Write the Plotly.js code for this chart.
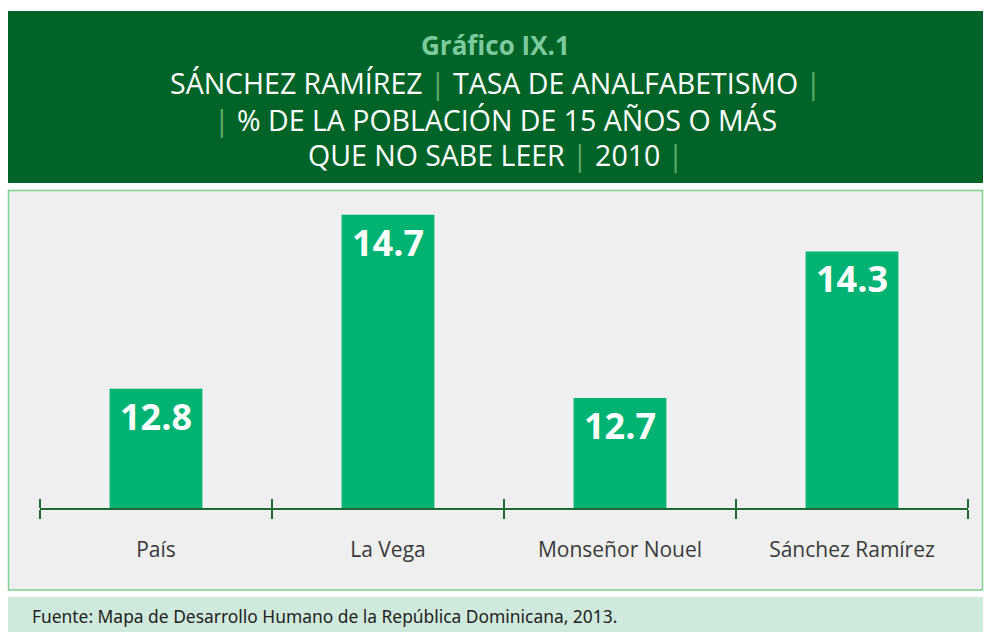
<!DOCTYPE html>
<html>
<head>
<meta charset="utf-8">
<script src="https://cdn.plot.ly/plotly-3.0.1.min.js"></script>
<style>html,body{margin:0;padding:0;background:#fff;}#chart{width:991px;height:632px;}</style>
</head>
<body>
<div id="chart"></div>
<script>
var categories = ["País", "La Vega", "Monseñor Nouel", "Sánchez Ramírez"];
var values = [12.8, 14.7, 12.7, 14.3];
var valueLabels = ["12.8", "14.7", "12.7", "14.3"];
var titleKicker = "Gráfico IX.1";
var sep = '<span style="color:#5fae70">|</span>';
var titleLines = [
  "SÁNCHEZ RAMÍREZ " + sep + " TASA DE ANALFABETISMO " + sep,
  sep + " % DE LA POBLACIÓN DE 15 AÑOS O MÁS",
  "QUE NO SABE LEER " + sep + " 2010 " + sep
];
var sourceText = "Fuente: Mapa de Desarrollo Humano de la República Dominicana, 2013.";

// pixel -> paper helpers (plot area: x 40..968, y 190..508)
var L = 40, R = 968, T = 190, B = 508;
function px(x){ return (x - L) / (R - L); }
function py(y){ return (B - y) / (B - T); }

// category boundaries for the second (upward-tick) axis
var boundaries = [];
for (var i = 0; i <= categories.length; i++) boundaries.push(i - 0.5);

var bars = {
  type: "bar",
  x: categories,
  y: values,
  text: valueLabels,
  textposition: "inside",
  insidetextanchor: "end",
  textangle: 0,
  textfont: {family: "Open Sans, sans-serif", size: 36, color: "#ffffff", weight: 700},
  marker: {color: "#00b373", line: {width: 0}},
  width: 0.4,
  hoverinfo: "skip",
  cliponaxis: true
};
var tickHelper = {
  type: "scatter", mode: "markers",
  x: [boundaries[0], boundaries[boundaries.length - 1]], y: [11.0, 11.0],
  marker: {size: 1, opacity: 0},
  xaxis: "x2", yaxis: "y", hoverinfo: "skip", showlegend: false, cliponaxis: true
};

var layout = {
  width: 991, height: 632,
  margin: {l: L, r: 991 - R, t: T, b: 632 - B, pad: 0},
  paper_bgcolor: "#ffffff",
  plot_bgcolor: "rgba(0,0,0,0)",
  showlegend: false,
  bargap: 0.6,
  xaxis: {
    type: "category",
    range: [-0.5, 3.5],
    tickson: "boundaries",
    ticks: "outside", ticklen: 9, tickwidth: 2, tickcolor: "#1f6b33",
    showline: true, linecolor: "#1f6b33", linewidth: 2,
    showgrid: false, zeroline: false,
    ticklabelstandoff: 22,
    tickfont: {family: "Open Sans, sans-serif", size: 21, color: "#3a3a3a"},
    fixedrange: true
  },
  xaxis2: {
    type: "linear",
    overlaying: "x", anchor: "free", position: 0, side: "top",
    range: [-0.5, 3.5],
    tickmode: "array", tickvals: boundaries,
    ticks: "outside", ticklen: 9, tickwidth: 2, tickcolor: "#1f6b33",
    showticklabels: false, showline: false, showgrid: false, zeroline: false,
    fixedrange: true
  },
  yaxis: {
    range: [11.5, 14.97],
    visible: false, showgrid: false, zeroline: false, fixedrange: true
  },
  shapes: [
    {type: "rect", xref: "paper", yref: "paper", layer: "below",
     x0: px(8), x1: px(983), y0: py(183), y1: py(11),
     fillcolor: "#006428", line: {width: 0}},
    {type: "rect", xref: "paper", yref: "paper", layer: "below",
     x0: px(8.5), x1: px(982.5), y0: py(590), y1: py(190.5),
     fillcolor: "#efeff0", line: {color: "#7fcf8f", width: 1.5}},
    {type: "rect", xref: "paper", yref: "paper", layer: "below",
     x0: px(8), x1: px(983), y0: py(632), y1: py(597),
     fillcolor: "#cfeadc", line: {width: 0}}
  ],
  annotations: [
    {xref: "paper", yref: "paper", x: px(495.5), y: py(45), xanchor: "center", yanchor: "middle",
     text: "<b>" + titleKicker + "</b>", showarrow: false,
     font: {family: "Open Sans, sans-serif", size: 26, color: "#7dcb9c"}},
    {xref: "paper", yref: "paper", x: px(495.5), y: py(83), xanchor: "center", yanchor: "middle",
     text: titleLines[0], showarrow: false,
     font: {family: "Open Sans, sans-serif", size: 28.5, color: "#ffffff"}},
    {xref: "paper", yref: "paper", x: px(495.5), y: py(120), xanchor: "center", yanchor: "middle",
     text: titleLines[1], showarrow: false,
     font: {family: "Open Sans, sans-serif", size: 28.5, color: "#ffffff"}},
    {xref: "paper", yref: "paper", x: px(495.5), y: py(155), xanchor: "center", yanchor: "middle",
     text: titleLines[2], showarrow: false,
     font: {family: "Open Sans, sans-serif", size: 28.5, color: "#ffffff"}},
    {xref: "paper", yref: "paper", x: px(30), y: py(616), xanchor: "left", yanchor: "middle",
     text: sourceText, showarrow: false,
     font: {family: "Noto Sans, sans-serif", size: 17.4, color: "#222222"}}
  ]
};

Plotly.newPlot("chart", [bars, tickHelper], layout, {displayModeBar: false, staticPlot: true});
</script>
</body>
</html>
